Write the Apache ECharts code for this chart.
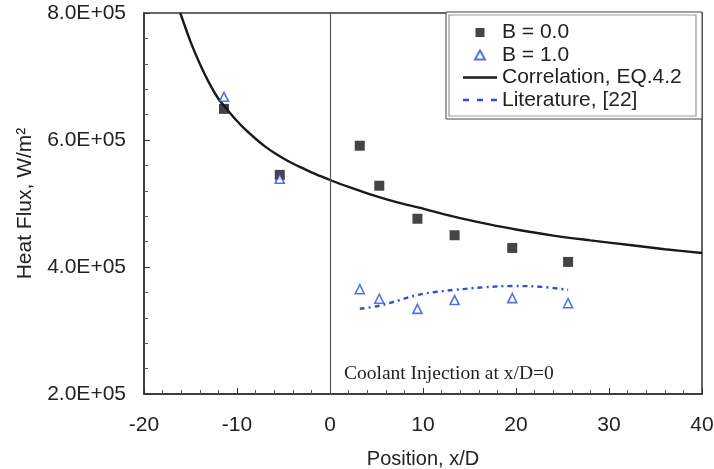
<!DOCTYPE html>
<html>
<head>
<meta charset="utf-8">
<script src="https://cdn.jsdelivr.net/npm/echarts@6/dist/echarts.min.js"></script>
<style>html,body{margin:0;padding:0;background:#fff}#c{width:714px;height:469px}</style>
</head>
<body>
<div id="c"></div>
<script>
// ---- data ----
const b0X = [-11.4, -5.4, 3.2, 5.3, 9.4, 13.4, 19.6, 25.6];
const b0Y = [6.49e5, 5.45e5, 5.91e5, 5.28e5, 4.76e5, 4.50e5, 4.30e5, 4.08e5];
const b1X = [-11.4, -5.4, 3.2, 5.3, 9.4, 13.4, 19.6, 25.6];
const b1Y = [6.68e5, 5.39e5, 3.65e5, 3.50e5, 3.34e5, 3.48e5, 3.51e5, 3.43e5];
const corrX = [-16.1, -15, -14, -13, -12, -11, -10, -9, -8, -7, -6, -5, -4, -3, -2, -1, 0, 2, 4, 6, 8, 10, 12, 14, 17, 20, 24, 28, 32, 36, 40];
const corrY = [8.0e5, 7.55e5, 7.2e5, 6.9e5, 6.65e5, 6.47e5, 6.30e5, 6.15e5, 6.02e5, 5.9e5, 5.8e5, 5.71e5, 5.63e5, 5.56e5, 5.49e5, 5.43e5, 5.37e5, 5.26e5, 5.16e5, 5.07e5, 4.99e5, 4.92e5, 4.84e5, 4.77e5, 4.675e5, 4.59e5, 4.495e5, 4.42e5, 4.35e5, 4.28e5, 4.22e5];
const litX = [3.2, 5.3, 7.5, 9.4, 11.5, 13.4, 16.5, 19.6, 22.5, 25.6];
const litY = [3.34e5, 3.39e5, 3.48e5, 3.56e5, 3.61e5, 3.64e5, 3.68e5, 3.70e5, 3.69e5, 3.64e5];
const xTicks = [-20, -10, 0, 10, 20, 30, 40];
const yTicks = [2e5, 4e5, 6e5, 8e5];
const seriesNames = ['B = 0.0', 'B = 1.0', 'Correlation, EQ.4.2', 'Literature, [22]'];
const xTitle = 'Position, x/D';
const yTitle = 'Heat Flux, W/m\u00B2';
const noteText = 'Coolant Injection at x/D=0';

const zip = (a, b) => a.map((v, i) => [v, b[i]]);
const fmtY = v => (v / 1e5).toFixed(1) + 'E+05';
const BLUE = '#2c4fd9';
const FONT = 'Liberation Sans, Arial, sans-serif';

const chart = echarts.init(document.getElementById('c'), null, {renderer: 'canvas'});
chart.setOption({
  animation: false,
  backgroundColor: '#fff',
  grid: {left: 144, right: 12, top: 13, bottom: 75, containLabel: false, outerBoundsMode: 'none',
    show: true, borderColor: '#333', borderWidth: 1.5},
  xAxis: {
    type: 'value', min: xTicks[0], max: xTicks[xTicks.length - 1], interval: 10,
    name: xTitle, nameLocation: 'middle', nameGap: 55,
    nameTextStyle: {fontFamily: FONT, fontSize: 20, color: '#222'},
    axisLine: {onZero: false, lineStyle: {color: '#333', width: 1.5}},
    axisTick: {inside: true, length: 6, lineStyle: {color: '#333'}},
    minorTick: {show: true, splitNumber: 5, length: 4, lineStyle: {color: '#555'}},
    splitLine: {show: false},
    axisLabel: {margin: 21, fontFamily: FONT, fontSize: 21, color: '#222'}
  },
  yAxis: {
    type: 'value', min: yTicks[0], max: yTicks[yTicks.length - 1], interval: 2e5,
    name: yTitle, nameLocation: 'middle', nameGap: 108,
    nameTextStyle: {fontFamily: FONT, fontSize: 21, color: '#222'},
    axisLine: {show: true, onZero: false, lineStyle: {color: '#333', width: 1.5}},
    axisTick: {show: true, inside: true, length: 6, lineStyle: {color: '#333'}},
    minorTick: {show: true, splitNumber: 5, length: 4, lineStyle: {color: '#555'}},
    splitLine: {show: false},
    axisLabel: {margin: 18, fontFamily: FONT, fontSize: 21, color: '#222', formatter: fmtY}
  },
  legend: {
    z: 100, orient: 'vertical', left: 440, top: 12,
    padding: [10, 19, 7, 23], itemGap: 1.5, itemWidth: 34, itemHeight: 9,
    backgroundColor: 'transparent', borderWidth: 0,
    textStyle: {fontFamily: FONT, fontSize: 21, color: '#222'},
    data: [
      {name: seriesNames[0], icon: 'path://M0,0h10v10h-10z'},
      {name: seriesNames[1], icon: 'path://M5,0L10,9L0,9Z'},
      {name: seriesNames[2], icon: 'path://M0,0h34v2.4h-34z'},
      {name: seriesNames[3], icon: 'path://M0,0h6v2.4h-6zM14,0h6v2.4h-6zM28,0h6v2.4h-6z'}
    ]
  },
  series: [
    {
      name: seriesNames[0], type: 'scatter', data: zip(b0X, b0Y), symbol: 'rect', symbolSize: 10,
      itemStyle: {color: '#151515'}, z: 3,
      markLine: {
        silent: true, symbol: 'none', label: {show: false},
        lineStyle: {color: '#555', width: 1.2, type: 'solid'},
        data: [{xAxis: 0}]
      }
    },
    {
      name: seriesNames[1], type: 'scatter', data: zip(b1X, b1Y), symbol: 'triangle', symbolSize: 9,
      itemStyle: {color: '#fff', borderColor: BLUE, borderWidth: 1.6}, z: 4
    },
    {
      name: seriesNames[2], type: 'line', data: zip(corrX, corrY), smooth: 0.3, showSymbol: false, symbol: 'none',
      lineStyle: {color: '#1a1a1a', width: 2.4}, itemStyle: {color: '#1a1a1a'}
    },
    {
      name: seriesNames[3], type: 'line', data: zip(litX, litY), smooth: 0.4, showSymbol: false, symbol: 'none',
      lineStyle: {color: BLUE, width: 2.4, type: [5, 4, 2, 4]}, itemStyle: {color: BLUE}
    }
  ],
  graphic: [
    {
      type: 'rect', z: 50, shape: {x: 446, y: 12, width: 256, height: 107},
      style: {fill: '#fff', stroke: '#444', lineWidth: 1}
    },
    {
      type: 'rect', z: 51, shape: {x: 449, y: 15, width: 247, height: 101},
      style: {fill: 'none', stroke: '#999', lineWidth: 1.2}
    },
    {
      type: 'text', left: 344, top: 364,
      style: {text: noteText, font: '19.5px "Liberation Serif", "Times New Roman", serif', fill: '#222'}
    }
  ]
});
</script>
</body>
</html>
